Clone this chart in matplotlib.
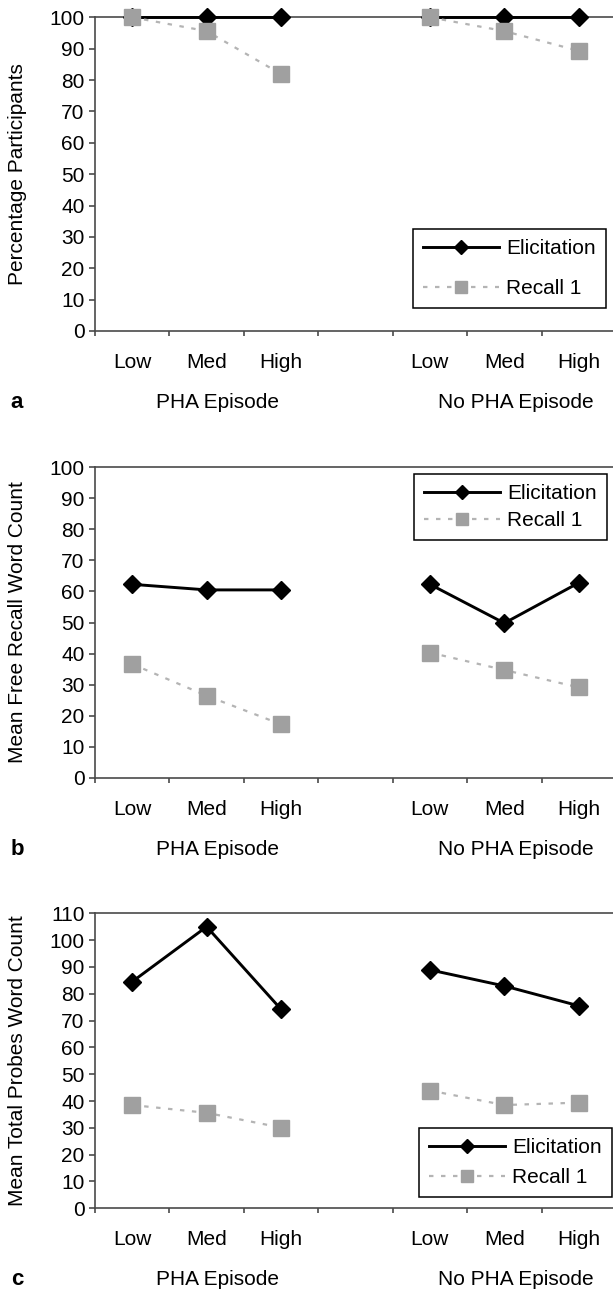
import matplotlib
matplotlib.use('Agg')
import matplotlib.pyplot as plt
import numpy as np
from matplotlib.transforms import blended_transform_factory, ScaledTranslation

plt.rcParams['font.family'] = ['Liberation Sans', 'DejaVu Sans']
plt.rcParams['font.size'] = 15

# Categorias
levels = ['Low', 'Med', 'High']
groups = ['PHA Episode', 'No PHA Episode']

# a: porcentaje de participantes
pct_elicit = [[100, 100, 100], [100, 100, 100]]
pct_recall = [[100, 95.6, 81.9], [100, 95.6, 89.3]]
# b: media de palabras en recuerdo libre
free_elicit = [[62.3, 60.5, 60.5], [62.3, 49.8, 62.8]]
free_recall = [[36.6, 26.4, 17.2], [40.3, 34.7, 29.1]]
# c: media de palabras en sondeos
probe_elicit = [[84.5, 105.0, 74.2], [88.9, 82.9, 75.5]]
probe_recall = [[38.5, 35.6, 30.1], [43.9, 38.5, 39.4]]

W, H = 613, 1293
DPI = 100
SPINE = '#4a4a4a'

fig = plt.figure(figsize=(W / DPI, H / DPI), dpi=DPI)

# left, right del eje en pixeles (el borde derecho queda fuera de la imagen)
AX_L, AX_R = 95, 616

paneles = [
    # letra, ylabel, elicit, recall, ymax, top, bottom, legend (x, y) px, labelspacing
    ('a', 'Percentage Participants', pct_elicit, pct_recall, 100, 17.3, 331.0, (413, 229), 1.0),
    ('b', 'Mean Free Recall Word Count', free_elicit, free_recall, 100, 467.3, 777.7, (414, 474), 0.4),
    ('c', 'Mean Total Probes Word Count', probe_elicit, probe_recall, 110, 913.3, 1208.3, (419, 1128), 0.55),
]

n_cat = len(groups) * (len(levels) + 1) - 1

for letra, ylabel, elicit, recall, ymax, top, bottom, leg_xy, lspace in paneles:
    ax = fig.add_axes([AX_L / W, 1 - bottom / H, (AX_R - AX_L) / W, (bottom - top) / H])

    for g in range(len(groups)):
        x = g * (len(levels) + 1) + np.arange(len(levels))
        ax.plot(x, elicit[g], color='black', lw=2.1, marker='D', ms=9.5,
                clip_on=False, zorder=3, label='Elicitation' if g == 0 else None)
        ax.plot(x, recall[g], color='#b4b4b4', lw=1.6, ls=(0, (2.0, 3.4)),
                marker='s', ms=11.5, mfc='#a0a0a0', mec='#a0a0a0',
                clip_on=False, zorder=4, label='Recall 1' if g == 0 else None)

    ax.set_xlim(-0.5, n_cat - 0.5)
    ax.set_ylim(0, ymax)
    ax.set_yticks(np.arange(0, ymax + 1, 10))
    ax.set_xticks(np.arange(-0.5, n_cat, 1.0))
    ax.set_xticklabels([])
    ax.tick_params(axis='y', length=4.5, width=1.2, pad=3, color=SPINE)
    ax.tick_params(axis='x', length=3.5, width=1.2, color=SPINE)
    for s in ax.spines.values():
        s.set_color(SPINE)
        s.set_linewidth(1.2)

    # etiquetas de categoria y grupo
    base = blended_transform_factory(ax.transData, ax.transAxes)
    t_cat = base + ScaledTranslation(0, -37 / DPI, fig.dpi_scale_trans)
    t_grp = base + ScaledTranslation(0, -77 / DPI, fig.dpi_scale_trans)
    for g, nombre in enumerate(groups):
        x0 = g * (len(levels) + 1)
        for i, lv in enumerate(levels):
            ax.text(x0 + i, 0, lv, transform=t_cat, ha='center', va='baseline')
        ax.text(x0 + 1.15, 0, nombre, transform=t_grp, ha='center', va='baseline')

    # letra del panel
    fig.text(17 / W, 1 - (bottom + 77) / H, letra, ha='center', va='baseline',
             fontweight='bold', fontsize=16)
    fig.text(18 / W, 1 - (top + bottom) / 2 / H, ylabel, rotation=90,
             ha='center', va='center')

    lx = (leg_xy[0] - AX_L) / (AX_R - AX_L)
    ly = (bottom - leg_xy[1]) / (bottom - top)
    leg = ax.legend(loc='upper left', bbox_to_anchor=(lx, ly), frameon=True,
                    fancybox=False, framealpha=1, edgecolor='black',
                    handlelength=3.67, handletextpad=0.33, borderpad=0.48,
                    labelspacing=lspace, markerscale=0.72, borderaxespad=0)
    leg.get_frame().set_linewidth(1.1)

fig.savefig('out.png', dpi=DPI)
